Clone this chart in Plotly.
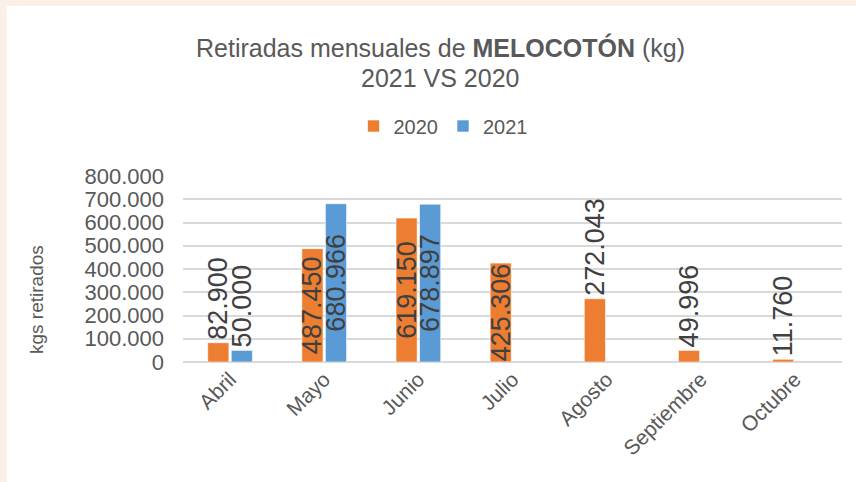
import plotly.graph_objects as go

months = ["Abril", "Mayo", "Junio", "Julio", "Agosto", "Septiembre", "Octubre"]
v2020 = [82900, 487450, 619150, 425306, 272043, 49996, 11760]
v2021 = [50000, 680966, 678897, None, None, None, None]
y_ticks = [0, 100000, 200000, 300000, 400000, 500000, 600000, 700000, 800000]

W, H = 856, 482
L, R, T, B = 183, 14, 176, 120
PW, PH = W - L - R, H - T - B

def px(x):
    return (x - L) / PW

def py(y):
    return (H - B - y) / PH

ORANGE = "#ED7D31"
BLUE = "#5B9BD5"
FAM = "Liberation Sans, Arial, sans-serif"
LABEL_FONT = dict(family=FAM, size=27, color="#404040")

pos2020 = ["outside", "inside", "inside", "inside", "outside", "outside", "outside"]
pos2021 = ["outside", "inside", "inside", "inside", "inside", "inside", "inside"]

fig = go.Figure()
fig.add_trace(go.Bar(
    name="2020", x=months, y=v2020, marker=dict(color=ORANGE, line=dict(color="rgba(255,255,255,0.6)", width=1)),
    texttemplate="%{y:,d}", textposition=pos2020, textangle=-90, constraintext="none",
    insidetextanchor="middle", textfont=LABEL_FONT, insidetextfont=LABEL_FONT, outsidetextfont=LABEL_FONT,
    cliponaxis=False,
))
fig.add_trace(go.Bar(
    name="2021", x=months, y=v2021, marker=dict(color=BLUE, line=dict(color="rgba(255,255,255,0.6)", width=1)),
    texttemplate="%{y:,d}", textposition=pos2021, textangle=-90, constraintext="none",
    insidetextanchor="middle", textfont=LABEL_FONT, insidetextfont=LABEL_FONT, outsidetextfont=LABEL_FONT,
    cliponaxis=False,
))

fig.update_layout(
    width=W, height=H,
    margin=dict(l=L, r=R, t=T, b=B, autoexpand=False),
    paper_bgcolor="#FBF0E6",
    plot_bgcolor="white",
    separators=",.",
    barmode="group", bargap=0.5, bargroupgap=0.1,
    showlegend=True,
    legend=dict(orientation="h", x=px(443), y=py(126), xanchor="center", yanchor="middle",
                font=dict(family=FAM, size=20, color="#595959"),
                itemwidth=30, bgcolor="rgba(0,0,0,0)"),
    font=dict(family=FAM, color="#595959"),
    shapes=[dict(type="rect", xref="paper", yref="paper", x0=px(7), x1=px(W + 5), y0=py(H + 5), y1=py(6),
                 fillcolor="white", line=dict(width=0), layer="below")],
    annotations=[
        dict(text="Retiradas mensuales de <b>MELOCOTÓN</b> (kg)", xref="paper", yref="paper",
             x=px(440), y=py(47), xanchor="center", yanchor="middle", showarrow=False,
             font=dict(family=FAM, size=25, color="#595959")),
        dict(text="2021 VS 2020", xref="paper", yref="paper",
             x=px(440), y=py(78), xanchor="center", yanchor="middle", showarrow=False,
             font=dict(family=FAM, size=25, color="#595959")),
        dict(text="kgs retirados", xref="paper", yref="paper", x=px(36), y=py(300),
             xanchor="center", yanchor="middle", textangle=-90, showarrow=False,
             font=dict(family=FAM, size=19, color="#595959")),
    ],
)
fig.update_yaxes(range=[0, 800000], tickvals=y_ticks, tickformat=",d", showgrid=True,
                 gridcolor="#D9D9D9", gridwidth=1.5, zeroline=True, zerolinecolor="#D9D9D9", zerolinewidth=1.5,
                 ticks="", ticklabelstandoff=18, showline=False,
                 tickfont=dict(family=FAM, size=22, color="#595959"))
fig.update_xaxes(tickangle=-45, showgrid=False, ticks="", showline=False,
                 tickfont=dict(family=FAM, size=21, color="#595959"))

fig.write_html("out.html", config={"displayModeBar": False},
               post_script="document.body.style.margin='0px';document.body.style.overflow='hidden';")
